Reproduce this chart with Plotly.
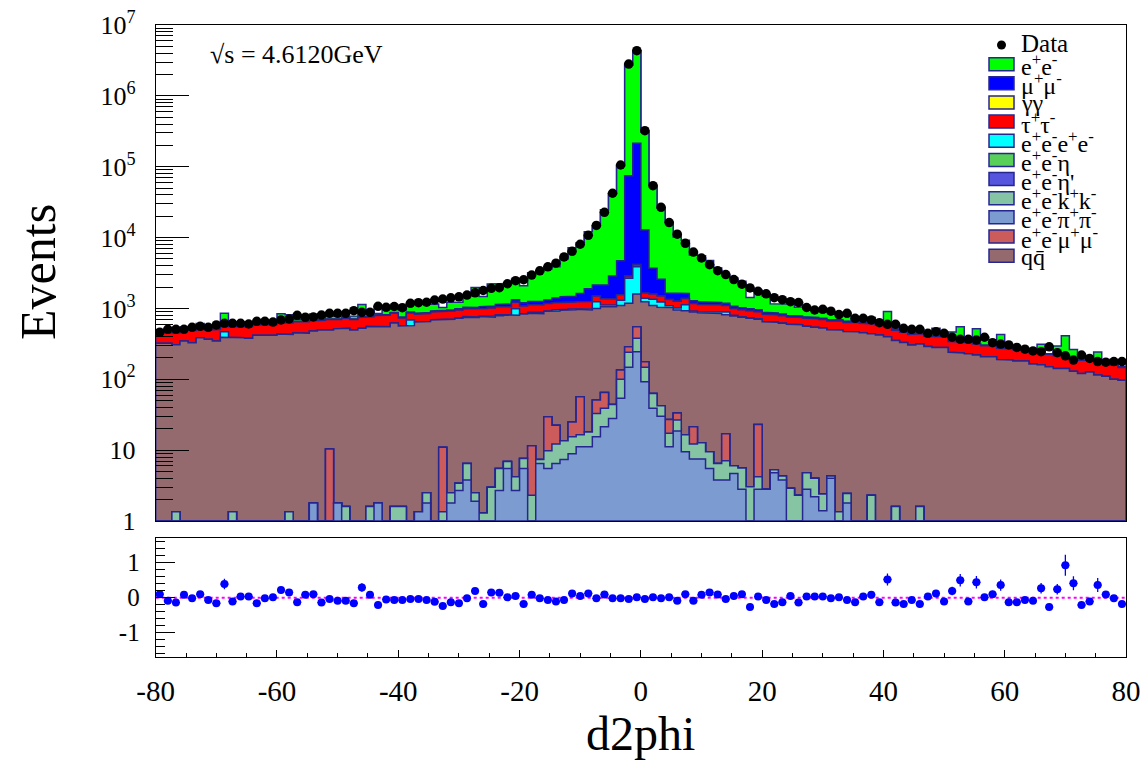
import numpy as np
import plotly.graph_objects as go

# ---------------- binning ----------------
NBINS = 120
XMIN, XMAX = -80.0, 80.0
edges = np.linspace(XMIN, XMAX, NBINS + 1)
centers = 0.5 * (edges[:-1] + edges[1:])

# ---------------- data ----------------
data = [
    460, 507, 507, 507, 541, 559, 541, 584, 617, 617,
    617, 603, 658, 658, 643, 687, 709, 800, 750, 757,
    807, 853, 853, 853, 929, 881, 881, 1071, 1037, 1065,
    1025, 1181, 1206, 1222, 1315, 1357, 1410, 1457, 1546, 1660,
    1790, 1920, 1960, 2230, 2460, 2540, 2960, 3390, 3860, 4350,
    5340, 6400, 8050, 10750, 14850, 22700, 42200, 105700, 2810000, 4340000,
    322000, 54000, 26700, 16300, 11150, 8300, 6250, 5150, 4140, 3410,
    3010, 2550, 2200, 1950, 1745, 1610, 1420, 1330, 1245, 1213,
    1031, 950, 970, 915, 820, 853, 725, 725, 687, 630,
    597, 597, 524, 507, 507, 445, 470, 445, 392, 367,
    367, 358, 392, 328, 314, 305, 282, 266, 251, 245,
    287, 237, 214, 187, 220, 197, 178, 174, 178, 178,
]

# lower panel: MC/Data - 1
ratio = [
    0.10, -0.09, -0.14, 0.08, -0.02, 0.10, -0.07, -0.16, 0.39, -0.11,
    0.03, 0.03, -0.16, -0.02, 0.01, 0.22, 0.15, -0.13, 0.08, 0.10,
    -0.14, -0.04, -0.09, -0.09, -0.16, 0.29, 0.08, -0.21, -0.05, -0.07,
    -0.07, -0.04, -0.04, -0.07, -0.12, -0.24, -0.13, -0.16, -0.02, 0.19,
    -0.18, 0.15, 0.14, 0.01, 0.05, -0.18, 0.08, -0.02, -0.07, -0.11,
    -0.07, 0.12, 0.05, 0.12, -0.02, 0.09, -0.02, -0.02, -0.04, 0.01,
    -0.04, 0.01, -0.02, 0.01, -0.09, 0.10, -0.09, 0.08, 0.15, 0.09,
    -0.04, 0.05, 0.10, -0.27, 0.03, -0.07, -0.18, -0.13, 0.05, -0.14,
    0.03, 0.03, 0.03, -0.02, 0.01, -0.07, -0.13, 0.03, 0.08, -0.13,
    0.52, -0.14, -0.18, -0.07, -0.18, 0.03, 0.12, -0.11, 0.19, 0.50,
    -0.11, 0.44, 0.01, 0.10, 0.36, -0.13, -0.13, -0.07, -0.09, 0.27,
    -0.27, 0.24, 0.93, 0.41, -0.21, -0.11, 0.36, 0.09, -0.02, -0.18,
]
ratio_err = [
    0.10, 0.06, 0.06, 0.08, 0.07, 0.08, 0.06, 0.06, 0.15, 0.06,
    0.06, 0.07, 0.06, 0.06, 0.06, 0.10, 0.10, 0.06, 0.07, 0.07,
    0.06, 0.06, 0.05, 0.05, 0.05, 0.12, 0.08, 0.05, 0.05, 0.05,
    0.05, 0.06, 0.05, 0.05, 0.05, 0.05, 0.05, 0.05, 0.05, 0.08,
    0.05, 0.07, 0.07, 0.05, 0.06, 0.05, 0.05, 0.05, 0.05, 0.05,
    0.05, 0.04, 0.04, 0.04, 0.04, 0.04, 0.03, 0.03, 0.02, 0.02,
    0.03, 0.04, 0.04, 0.04, 0.04, 0.06, 0.04, 0.06, 0.07, 0.05,
    0.05, 0.05, 0.07, 0.05, 0.05, 0.05, 0.06, 0.05, 0.05, 0.05,
    0.05, 0.06, 0.06, 0.06, 0.05, 0.06, 0.06, 0.06, 0.06, 0.06,
    0.17, 0.06, 0.06, 0.07, 0.06, 0.08, 0.10, 0.07, 0.12, 0.18,
    0.07, 0.18, 0.08, 0.10, 0.16, 0.07, 0.07, 0.08, 0.07, 0.15,
    0.07, 0.15, 0.30, 0.20, 0.08, 0.08, 0.20, 0.08, 0.07, 0.07,
]

# ---------------- MC components ----------------
qq = [
    322, 322, 305, 347, 328, 386, 367, 347, 392, 392,
    386, 379, 418, 418, 418, 435, 426, 454, 445, 480,
    496, 486, 513, 524, 496, 524, 552, 552, 552, 620,
    563, 575, 640, 650, 687, 687, 700, 725, 745, 745,
    765, 750, 780, 800, 795, 825, 845, 835, 880, 900,
    930, 935, 915, 930, 950, 990, 1010, 965, 890, 1040,
    1070, 1040, 1000, 1000, 920, 910, 870, 855, 845, 845,
    800, 775, 745, 725, 680, 645, 635, 615, 595, 585,
    555, 540, 525, 495, 495, 468, 468, 453, 438, 420,
    400, 350, 330, 305, 314, 290, 282, 282, 240, 235,
    230, 220, 208, 208, 190, 187, 181, 181, 165, 160,
    150, 142, 142, 130, 121, 127, 115, 110, 100, 97,
]
eeee = [
    0, 0, 0, 0, 0, 0, 0, 0, 77, 0,
    0, 0, 0, 0, 0, 0, 0, 0, 0, 0,
    0, 0, 0, 0, 0, 0, 0, 0, 0, 0,
    0, 110, 0, 0, 5, 5, 5, 10, 20, 10,
    10, 30, 30, 10, 190, 10, 30, 40, 10, 30,
    30, 20, 20, 40, 240, 60, 60, 200, 1480, 2270,
    150, 240, 190, 60, 60, 200, 30, 30, 30, 40,
    75, 20, 10, 10, 10, 5, 5, 5, 0, 0,
    0, 0, 0, 0, 0, 0, 0, 0, 0, 0,
    0, 0, 0, 0, 0, 0, 0, 0, 0, 0,
    0, 0, 0, 0, 0, 0, 0, 0, 0, 0,
    0, 0, 0, 0, 0, 0, 0, 0, 0, 0,
]
tautau = [
    128, 128, 145, 149, 162, 127, 129, 158, 150, 160,
    166, 173, 166, 166, 172, 195, 194, 196, 205, 187,
    184, 201, 184, 201, 201, 221, 208, 238, 248, 233,
    170, 180, 190, 195, 200, 205, 210, 215, 220, 220,
    225, 230, 240, 240, 230, 240, 240, 245, 250, 250,
    250, 250, 255, 260, 260, 250, 250, 260, 200, 300,
    260, 260, 260, 250, 250, 250, 250, 240, 240, 240,
    210, 200, 195, 190, 185, 175, 170, 165, 160, 160,
    170, 170, 170, 165, 170, 165, 170, 165, 165, 160,
    150, 140, 130, 125, 125, 115, 115, 115, 100, 100,
    100, 95, 90, 90, 85, 82, 80, 80, 72, 72,
    75, 72, 72, 68, 65, 68, 62, 60, 58, 50,
]
gamgam = [
    0, 0, 0, 0, 0, 0, 0, 0, 0, 0,
    0, 0, 0, 0, 0, 0, 0, 0, 0, 0,
    0, 0, 0, 0, 0, 0, 0, 0, 0, 0,
    0, 0, 0, 0, 0, 0, 0, 0, 0, 0,
    0, 0, 0, 0, 0, 0, 0, 0, 0, 0,
    0, 0, 0, 0, 0, 0, 0, 0, 0, 0,
    0, 0, 0, 0, 0, 0, 0, 0, 0, 0,
    0, 0, 0, 0, 0, 0, 0, 0, 0, 0,
    0, 0, 0, 0, 0, 0, 0, 0, 0, 0,
    0, 0, 0, 0, 0, 0, 0, 0, 0, 0,
    0, 0, 0, 0, 0, 0, 0, 0, 0, 0,
    0, 0, 0, 0, 0, 0, 0, 0, 0, 0,
]
mumu = [
    4, 4, 5, 4, 5, 5, 5, 6, 6, 6,
    6, 7, 7, 7, 8, 8, 8, 9, 9, 10,
    10, 11, 12, 12, 13, 14, 15, 16, 18, 20,
    22, 24, 26, 28, 30, 33, 36, 40, 45, 50,
    60, 70, 80, 95, 110, 120, 130, 140, 150, 200,
    235, 255, 375, 650, 640, 775, 1500, 3160, 71700, 209800,
    11130, 2080, 1090, 320, 370, 250, 115, 100, 90, 85,
    80, 75, 70, 65, 60, 55, 50, 45, 40, 38,
    36, 34, 32, 30, 28, 26, 24, 22, 20, 18,
    16, 15, 14, 13, 12, 11, 10, 10, 9, 9,
    8, 8, 7, 7, 7, 6, 6, 6, 5, 5,
    5, 5, 4, 4, 4, 4, 4, 3, 3, 3,
]
eepipi = [
    0, 0, 0, 0, 0, 0, 0, 0, 0, 0,
    0, 0, 0, 0, 0, 0, 0, 0, 0, 1.8,
    0, 0, 1.8, 0, 0, 0, 0, 1.8, 0, 0,
    0, 0, 1.35, 1.8, 0, 0, 1.8, 2.7, 3.8, 1.9,
    0, 0, 2.7, 5.5, 2.7, 5.5, 0, 6.5, 5.5, 6.5,
    7.4, 8.9, 11.2, 11.2, 15.4, 21.4, 28, 54, 148, 245,
    92, 39, 30, 11.2, 18.6, 9.5, 7.5, 7.5, 5.5, 3.8,
    3.8, 4.7, 2.8, 0, 2.8, 2.8, 4.8, 3.8, 0, 0,
    2.8, 2.2, 1.4, 4.0, 0, 1.8, 0, 0, 0, 0,
    0, 0, 0, 0, 0, 0, 0, 0, 0, 0,
    0, 0, 0, 0, 0, 0, 0, 0, 0, 0,
    0, 0, 0, 0, 0, 0, 0, 0, 0, 0,
]
eekk = [
    0, 0, 1.35, 0, 0, 0, 0, 0, 0, 1.35,
    0, 0, 0, 0, 0, 0, 1.35, 0, 0, 0,
    0, 0, 0, 1.6, 0, 0, 1.6, 0, 0, 1.6,
    1.6, 0, 0, 0.7, 0, 1.35, 0.7, 0.7, 2.7, 0.6,
    1.3, 3.0, 2.8, 1.4, 1.5, 2.1, 2.3, 0.9, 4.3, 5.7,
    6.2, 6.5, 5.3, 6.8, 17.6, 17.5, 16, 46, 92, 134,
    56, 24, 12.4, 6.1, 8.0, 7.0, 4.7, 5.2, 4.0, 2.7,
    3.3, 1.3, 2.8, 3.05, 1.4, 0, 0.5, 0.5, 2.9, 2.3,
    2.0, 1.8, 1.0, 0.3, 1.35, 0.65, 0, 0, 2.3, 0,
    0, 1.6, 0, 0, 1.6, 0, 0, 0, 0, 0,
    0, 0, 0, 0, 0, 0, 0, 0, 0, 0,
    0, 0, 0, 0, 0, 0, 0, 0, 0, 0,
]
eemumu = [
    0, 0, 0, 0, 0, 0, 0, 0, 0, 0,
    0, 0, 0, 0, 0, 0, 0, 0, 0, 0,
    0, 10.4, 0, 0, 0, 0, 0, 0, 0, 0,
    0, 0, 0, 0, 0, 9.6, 0, 0, 0, 0,
    0, 0, 0, 0, 0, 0, 9.2, 0, 19.8, 10.3,
    0, 9.6, 40, 0, 18, 26, 0, 35, 49, 173,
    29, 0, 0, 9.7, 6.9, 0, 9.2, 0, 0, 0,
    9.9, 0, 0, 0, 18.8, 0, 0, 0, 0, 0,
    0, 0, 0, 0, 0, 0, 0, 0, 0, 0,
    0, 0, 0, 0, 0, 0, 0, 0, 0, 0,
    0, 0, 0, 0, 0, 0, 0, 0, 0, 0,
    0, 0, 0, 0, 0, 0, 0, 0, 0, 0,
]
eeeta = [
    0, 0, 0, 0, 0, 0, 0, 0, 0, 0,
    0, 0, 0, 0, 0, 0, 0, 0, 0, 0,
    0, 0, 0, 0, 0, 0, 0, 0, 0, 0,
    0, 0, 0, 0, 0, 0, 0, 0, 0, 0,
    0, 0, 0, 0, 0, 0, 0, 0, 0, 0,
    0, 0, 0, 0, 0, 0, 0, 0, 0, 0,
    0, 0, 0, 0, 0, 0, 0, 0, 0, 0,
    0, 0, 0, 0, 0, 0, 0, 0, 0, 0,
    0, 0, 0, 0, 0, 0, 0, 0, 0, 0,
    0, 0, 0, 0, 0, 0, 0, 0, 0, 0,
    0, 0, 0, 0, 0, 0, 0, 0, 0, 0,
    0, 0, 0, 0, 0, 0, 0, 0, 0, 0,
]
eeetap = [
    0, 0, 0, 0, 0, 0, 0, 0, 0, 0,
    0, 0, 0, 0, 0, 0, 0, 0, 0, 0,
    0, 0, 0, 0, 0, 0, 0, 0, 0, 0,
    0, 0, 0, 0, 0, 0, 0, 0, 0, 0,
    0, 0, 0, 0, 0, 0, 0, 0, 0, 0,
    0, 0, 0, 0, 0, 0, 0, 0, 0, 0,
    0, 0, 0, 0, 0, 0, 0, 0, 0, 0,
    0, 0, 0, 0, 0, 0, 0, 0, 0, 0,
    0, 0, 0, 0, 0, 0, 0, 0, 0, 0,
    0, 0, 0, 0, 0, 0, 0, 0, 0, 0,
    0, 0, 0, 0, 0, 0, 0, 0, 0, 0,
    0, 0, 0, 0, 0, 0, 0, 0, 0, 0,
]

# Bhabha (e+e-) fills the rest of the MC total implied by the ratio panel
data_a = np.array(data, dtype=float)
mc_total = data_a * (1.0 + np.array(ratio))
others = (np.array(qq) + np.array(eeee) + np.array(tautau) + np.array(gamgam)
          + np.array(mumu) + np.array(eepipi) + np.array(eekk) + np.array(eemumu)
          + np.array(eeeta) + np.array(eeetap))
ee = np.clip(mc_total - others, 0, None)

# ---------------- styles ----------------
FONT = "Liberation Serif"
OUTLINE = "#262690"
labels = {
    "ee": "e<sup>+</sup>e<sup>-</sup>",
    "mumu": "μ<sup>+</sup>μ<sup>-</sup>",
    "gamgam": "γγ",
    "tautau": "τ<sup>+</sup>τ<sup>-</sup>",
    "eeee": "e<sup>+</sup>e<sup>-</sup>e<sup>+</sup>e<sup>-</sup>",
    "eeeta": "e<sup>+</sup>e<sup>-</sup>η",
    "eeetap": "e<sup>+</sup>e<sup>-</sup>η'",
    "eekk": "e<sup>+</sup>e<sup>-</sup>k<sup>+</sup>k<sup>-</sup>",
    "eepipi": "e<sup>+</sup>e<sup>-</sup>π<sup>+</sup>π<sup>-</sup>",
    "eemumu": "e<sup>+</sup>e<sup>-</sup>μ<sup>+</sup>μ<sup>-</sup>",
    "qq": "qq\u0304",
}
colors = {
    "ee": "#00ff00", "mumu": "#0000ff", "gamgam": "#ffff00", "tautau": "#ff0000",
    "eeee": "#00ffff", "eeeta": "#59d159", "eeetap": "#5555dd", "eekk": "#86c5a3",
    "eepipi": "#7b9bd1", "eemumu": "#cc5c5c", "qq": "#946a6f",
}
# stacking order, bottom -> top
stack = [("eepipi", eepipi), ("eekk", eekk), ("eemumu", eemumu), ("eeetap", eeetap),
         ("eeeta", eeeta), ("qq", qq), ("eeee", eeee), ("tautau", tautau),
         ("gamgam", gamgam), ("mumu", mumu), ("ee", ee)]
legend_order = ["ee", "mumu", "gamgam", "tautau", "eeee", "eeeta", "eeetap",
                "eekk", "eepipi", "eemumu", "qq"]

YMIN = 1.0


def step_polygon(vals):
    v = np.maximum(np.asarray(vals, dtype=float), YMIN)
    xs = [edges[0]]
    ys = [YMIN]
    for i in range(NBINS):
        xs += [edges[i], edges[i + 1]]
        ys += [v[i], v[i]]
    xs += [edges[-1], edges[0]]
    ys += [YMIN, YMIN]
    return xs, ys


fig = go.Figure()

# data drawn as histogram first (white), MC stack over it
xs, ys = step_polygon(data)
fig.add_trace(go.Scatter(x=xs, y=ys, mode="lines", fill="toself", fillcolor="white",
                         line=dict(color=OUTLINE, width=1.5), hoverinfo="skip",
                         showlegend=False, xaxis="x", yaxis="y"))

cum = np.zeros(NBINS)
cums = []
for name, vals in stack:
    cum = cum + np.asarray(vals, dtype=float)
    cums.append((name, cum.copy()))
for name, c in reversed(cums):
    xs, ys = step_polygon(c)
    fig.add_trace(go.Scatter(x=xs, y=ys, mode="lines", fill="toself",
                             fillcolor=colors[name],
                             line=dict(color=OUTLINE, width=1.5),
                             name=name, hoverinfo="skip", showlegend=False,
                             xaxis="x", yaxis="y"))

# data points
fig.add_trace(go.Scatter(x=centers, y=data, mode="markers",
                         marker=dict(color="black", size=9.5, symbol="circle"),
                         showlegend=False, xaxis="x", yaxis="y"))

# ratio panel
fig.add_shape(type="line", xref="x2", yref="y2", x0=XMIN, x1=XMAX, y0=0, y1=0,
              line=dict(color="#ff00ff", width=2, dash="3px,3px"), layer="below")
fig.add_trace(go.Scatter(x=centers, y=ratio, mode="markers",
                         marker=dict(color="#0000ff", size=8, symbol="circle"),
                         error_y=dict(type="data", array=ratio_err, color="#0000ff",
                                      thickness=1.3, width=0),
                         error_x=dict(type="constant", value=(XMAX - XMIN) / NBINS / 2,
                                      color="#0000ff", thickness=1.3, width=0),
                         showlegend=False, xaxis="x2", yaxis="y2"))

W, H = 1144, 760


def px(x):
    return x / W


def py(y):
    return 1 - y / H


# ---------------- legend (manual, ROOT-like) ----------------
leg_x0, leg_x1, leg_text_x = 989, 1014, 1019
leg_y0, leg_dy = 45.0, 19.15
LEG_FS = 25
annotations = []
shapes = []
# Data entry
shapes.append(dict(type="line", xref="paper", yref="paper", x0=px(leg_x0), x1=px(leg_x1 - 1),
                   y0=py(leg_y0), y1=py(leg_y0), line=dict(color="black", width=1.5)))
shapes.append(dict(type="circle", xref="paper", yref="paper", fillcolor="black",
                   x0=px(1001.5 - 4.5), x1=px(1001.5 + 4.5), y0=py(leg_y0 + 4.5),
                   y1=py(leg_y0 - 4.5), line=dict(color="black", width=0)))
annotations.append(dict(text="Data", xref="paper", yref="paper", x=px(leg_text_x),
                        y=py(leg_y0 - 1), xanchor="left", yanchor="middle", showarrow=False,
                        font=dict(family=FONT, size=LEG_FS, color="black")))
for k, name in enumerate(legend_order):
    yc = leg_y0 + (k + 1) * leg_dy
    shapes.append(dict(type="rect", xref="paper", yref="paper",
                       x0=px(leg_x0), x1=px(leg_x1), y0=py(yc + 6.5), y1=py(yc - 6.5),
                       fillcolor=colors[name], line=dict(color=OUTLINE, width=1.5)))
    annotations.append(dict(text=labels[name], xref="paper", yref="paper", x=px(leg_text_x),
                            y=py(yc + 1), xanchor="left", yanchor="middle", showarrow=False,
                            font=dict(family=FONT, size=LEG_FS - 1, color="black")))

annotations.append(dict(text="√s = 4.6120GeV", xref="paper", yref="paper", x=px(208), y=py(54),
                        xanchor="left", yanchor="middle", showarrow=False,
                        font=dict(family=FONT, size=26, color="black")))
annotations.append(dict(text="Events", xref="paper", yref="paper", x=px(38), y=py(272),
                        xanchor="center", yanchor="middle", textangle=-90, showarrow=False,
                        font=dict(family=FONT, size=50, color="black")))
annotations.append(dict(text="d2phi", xref="paper", yref="paper", x=px(640), y=py(733),
                        xanchor="center", yanchor="middle", showarrow=False,
                        font=dict(family=FONT, size=48, color="black")))

# ---------------- axes ----------------
xdom = [155.7 / W, 1126.0 / W]
ydom_top = [1 - 521.0 / H, 1 - 25.0 / H]
ydom_bot = [1 - 657.0 / H, 1 - 538.3 / H]

major_log = [1, 10, 100, 1000, 1e4, 1e5, 1e6, 1e7]
major_txt = ["1", "10", "10<sup>2</sup>", "10<sup>3</sup>", "10<sup>4</sup>",
             "10<sup>5</sup>", "10<sup>6</sup>", "10<sup>7</sup>"]
minor_log = [m * 10 ** e for e in range(0, 7) for m in range(2, 10)]

axis_common = dict(showgrid=False, zeroline=False, showline=True, linecolor="black",
                   linewidth=1, mirror=True, tickcolor="black", tickwidth=1,
                   automargin=False)

fig.update_layout(
    width=W, height=H, autosize=False,
    margin=dict(l=0, r=0, t=0, b=0, pad=0, autoexpand=False),
    paper_bgcolor="white", plot_bgcolor="white", showlegend=False,
    font=dict(family=FONT, color="black"),
    xaxis=dict(domain=xdom, range=[XMIN, XMAX], anchor="y", showticklabels=False,
               ticks="", **axis_common),
    yaxis=dict(domain=ydom_top, type="log", range=[0, 7], anchor="x",
               tickmode="array", tickvals=major_log, ticktext=major_txt,
               ticks="inside", ticklen=33,
               minor=dict(tickmode="array", tickvals=minor_log, ticks="inside",
                          ticklen=17, tickcolor="black", tickwidth=1),
               tickfont=dict(family=FONT, size=26, color="black"),
               ticklabelstandoff=14, **axis_common),
    xaxis2=dict(domain=xdom, range=[XMIN, XMAX], anchor="y2",
                tickmode="array", tickvals=[-80, -60, -40, -20, 0, 20, 40, 60, 80],
                ticktext=["-80", "-60", "-40", "-20", "0", "20", "40", "60", "80"],
                ticks="inside", ticklen=7,
                minor=dict(dtick=5, tick0=0, ticks="inside", ticklen=4,
                           tickcolor="black", tickwidth=1),
                tickfont=dict(family=FONT, size=29, color="black"),
                ticklabelstandoff=8, **axis_common),
    yaxis2=dict(domain=ydom_bot, range=[-1.7, 1.7], anchor="x2",
                tickmode="array", tickvals=[-1, 0, 1], ticktext=["-1", "0", "1"],
                ticks="inside", ticklen=19,
                minor=dict(dtick=0.2, tick0=0, ticks="inside", ticklen=9,
                           tickcolor="black", tickwidth=1),
                tickfont=dict(family=FONT, size=25, color="black"),
                ticklabelstandoff=10, **axis_common),
    shapes=shapes,
    annotations=annotations,
)

fig.write_html("out.html")
